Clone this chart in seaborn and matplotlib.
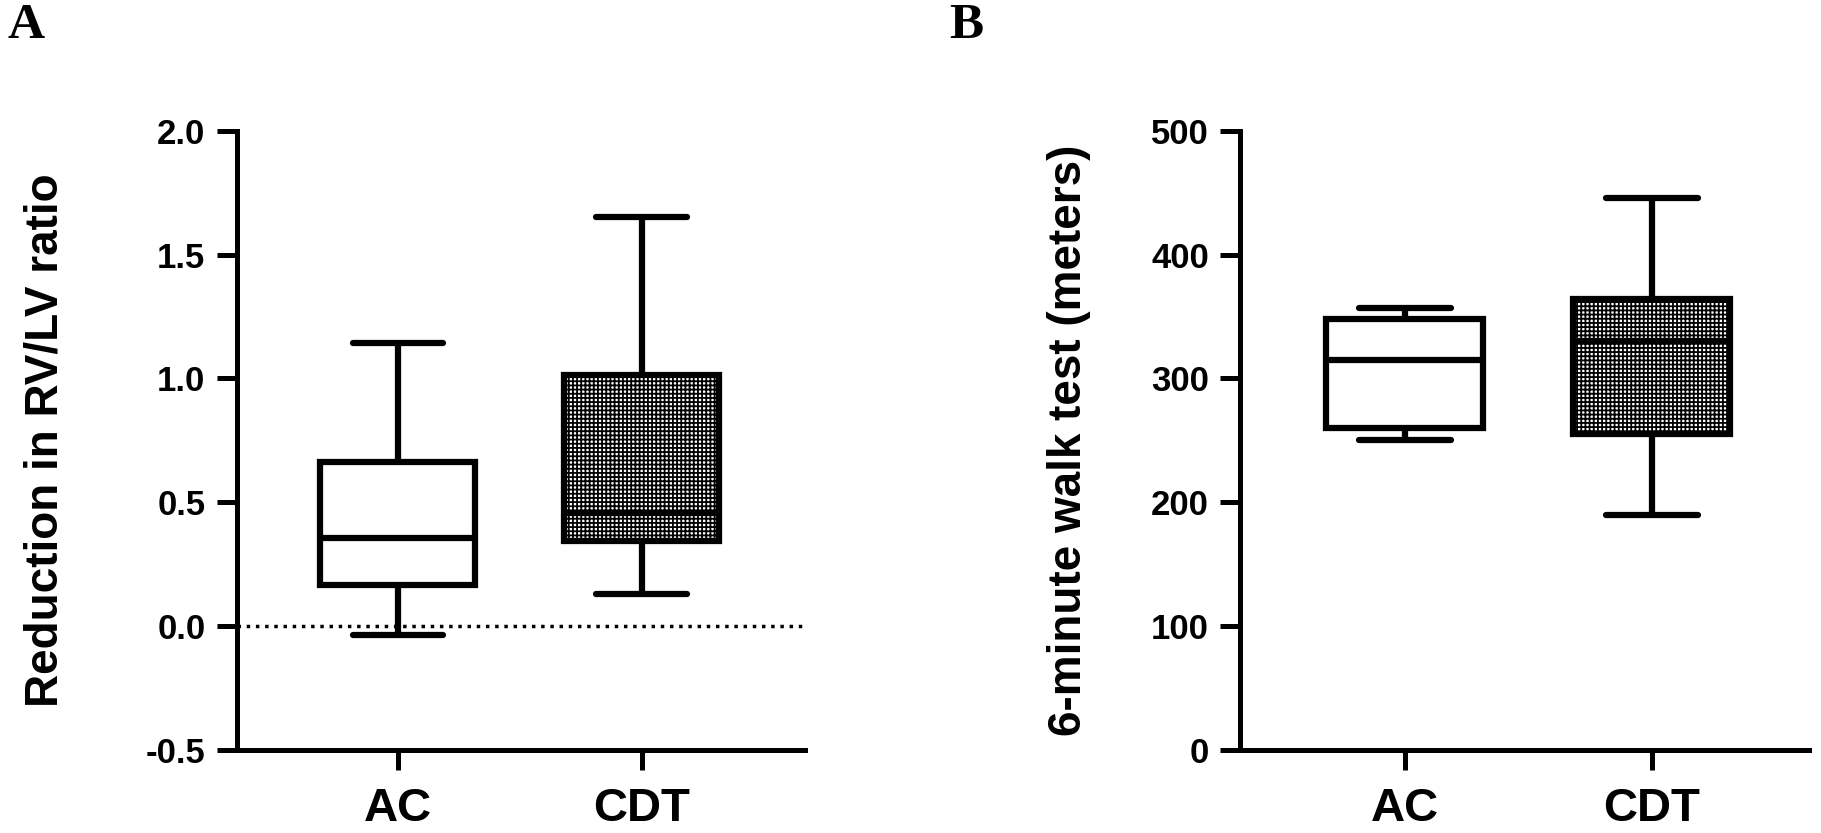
import pandas as pd
import matplotlib
matplotlib.use('Agg')
import matplotlib.pyplot as plt
import seaborn as sns

# Five-number summaries (min, Q1, median, Q3, max)
groups = ['AC', 'CDT']

rvlv_min = [-0.036, 0.131]
rvlv_q1 = [0.167, 0.345]
rvlv_med = [0.356, 0.457]
rvlv_q3 = [0.661, 1.015]
rvlv_max = [1.144, 1.652]

walk_min = [250, 190]
walk_q1 = [260, 255]
walk_med = [315, 330]
walk_q3 = [348, 364]
walk_max = [357, 446]

rvlv_ticks = [-0.5, 0.0, 0.5, 1.0, 1.5, 2.0]
walk_ticks = [0, 100, 200, 300, 400, 500]


def summary_frame(mins, q1s, meds, q3s, maxs):
    """Five values per group reproduce the box exactly with whis=(0, 100)"""
    rows = []
    for i, g in enumerate(groups):
        for v in (mins[i], q1s[i], meds[i], q3s[i], maxs[i]):
            rows.append({'group': g, 'value': v})
    return pd.DataFrame(rows)


sns.set_style('ticks')
plt.rcParams['font.family'] = ['Liberation Sans', 'DejaVu Sans']
plt.rcParams['font.weight'] = 'bold'
plt.rcParams['axes.unicode_minus'] = False
plt.rcParams['hatch.linewidth'] = 1.3
for key in ('text.color', 'axes.labelcolor', 'xtick.color', 'ytick.color',
            'axes.edgecolor'):
    plt.rcParams[key] = 'black'

fig = plt.figure(figsize=(18.21, 8.33), dpi=100)
ax_a = fig.add_axes([0.130, 0.0996, 0.312, 0.7435])
ax_b = fig.add_axes([0.681, 0.0996, 0.3124, 0.7435])

panels = [
    (ax_a, summary_frame(rvlv_min, rvlv_q1, rvlv_med, rvlv_q3, rvlv_max),
     'Reduction in RV/LV ratio', rvlv_ticks, '{:.1f}', (-0.66, 1.67), -0.298),
    (ax_b, summary_frame(walk_min, walk_q1, walk_med, walk_q3, walk_max),
     '6-minute walk test (meters)', walk_ticks, '{:.0f}', (-0.667, 1.636), -0.262),
]

for ax, df, label, ticks, fmt, xlim, label_x in panels:
    sns.boxplot(data=df, x='group', y='value', ax=ax, order=groups,
                whis=(0, 100), width=0.635, color='white', linecolor='black',
                linewidth=4.5, capwidths=0.37, fliersize=0)
    # checkered fill on the CDT box
    ax.patches[1].set_hatch('++++')

    ax.set_ylim(ticks[0], ticks[-1])
    ax.set_yticks(ticks)
    ax.set_yticklabels([fmt.format(t) for t in ticks])
    ax.set_xlim(*xlim)
    ax.set_xlabel('')
    ax.set_ylabel(label, fontsize=33, fontweight='bold', color='black')
    ax.yaxis.set_label_coords(label_x, 0.5)

    sns.despine(ax=ax)
    for side in ('left', 'bottom'):
        ax.spines[side].set_linewidth(3.6)
        ax.spines[side].set_color('black')
    ax.tick_params(axis='both', length=14.5, width=3.6, color='black',
                   labelcolor='black')
    ax.tick_params(axis='y', labelsize=25, pad=8)
    ax.tick_params(axis='x', labelsize=34, pad=12)
    for t in ax.get_xticklabels() + ax.get_yticklabels():
        t.set_fontweight('bold')

ax_a.axhline(0, color='black', linestyle=':', linewidth=2.5, zorder=0)

fig.text(0.004, 0.996, 'A', fontsize=37, fontweight='bold', va='top',
         family=['Liberation Serif', 'DejaVu Serif'])
fig.text(0.5215, 0.996, 'B', fontsize=37, fontweight='bold', va='top',
         family=['Liberation Serif', 'DejaVu Serif'])

fig.savefig('out.png', dpi=100)
